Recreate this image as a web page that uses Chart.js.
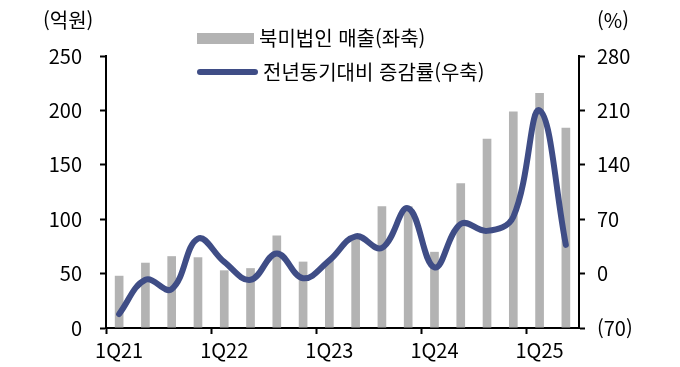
<!DOCTYPE html>
<html lang="ko">

<head>
  <meta charset="UTF-8">
  <title>북미법인 매출</title>
  <script src="https://cdn.jsdelivr.net/npm/chart.js"></script>
  <style>
    body { margin: 0; background: #fff; }
    .wrap { position: relative; width: 680px; height: 367px; font-family: "Noto Sans CJK KR", sans-serif; color: #000; }
    .unit { position: absolute; top: 6px; font-size: 20px; line-height: 28px; }
    .legend { position: absolute; left: 197px; font-size: 20px; line-height: 28px; display: flex; align-items: center; }
    .legend i { display: inline-block; margin-right: 5px; }
  </style>
</head>

<body>
  <div class="wrap">
    <canvas id="salesChart"></canvas>
    <div class="unit" style="left:43px">(억원)</div>
    <div class="unit" style="left:597px">(%)</div>
    <div class="legend" style="top:24px"><i id="swBar" style="width:57px;height:11px"></i><span id="lgBar"></span></div>
    <div class="legend" style="top:58px"><i id="swLine" style="width:61px;height:6px;border-radius:3px"></i><span id="lgLine"></span></div>
  </div>
  <script>
    const quarters = ['1Q21', '2Q21', '3Q21', '4Q21', '1Q22', '2Q22', '3Q22', '4Q22', '1Q23', '2Q23', '3Q23', '4Q23',
      '1Q24', '2Q24', '3Q24', '4Q24', '1Q25', '2Q25'];
    const sales = [48, 60, 66, 65, 53, 55, 85, 61, 62, 84, 112, 112, 70, 133, 174, 199, 216, 184];
    const yoy = [-52, -8, -20, 45, 15, -8, 26, -6, 17, 48, 33, 84, 8, 64, 55, 73, 210, 37];
    const leftTicks = [0, 50, 100, 150, 200, 250];
    const rightTicks = [-70, 0, 70, 140, 210, 280];

    const barName = '북미법인 매출(좌축)';
    const lineName = '전년동기대비 증감률(우축)';
    const barColor = '#b3b3b3';
    const lineColor = '#3f4d86';

    document.getElementById('lgBar').textContent = barName;
    document.getElementById('lgLine').textContent = lineName;
    document.getElementById('swBar').style.background = barColor;
    document.getElementById('swLine').style.background = lineColor;

    const tickFont = { family: '"Noto Sans CJK KR", sans-serif', size: 20 };

    const ctx = document.getElementById('salesChart').getContext('2d');
    const chart = new Chart(ctx, {
      data: {
        labels: quarters,
        datasets: [{
          type: 'line',
          label: lineName,
          data: yoy,
          yAxisID: 'yR',
          borderColor: lineColor,
          borderWidth: 6,
          borderCapStyle: 'round',
          tension: 0.4,
          pointRadius: 0,
          order: 1
        }, {
          type: 'bar',
          label: barName,
          data: sales,
          yAxisID: 'y',
          backgroundColor: barColor,
          barPercentage: 0.33,
          categoryPercentage: 1,
          order: 2
        }]
      },
      options: {
        responsive: true,
        maintainAspectRatio: false,
        animation: false,
        layout: { padding: { top: 56, left: 0, right: 0, bottom: 0 } },
        plugins: { legend: { display: false }, tooltip: { enabled: false } },
        scales: {
          x: {
            offset: true,
            afterFit: s => { s.height = 39; },
            border: { color: '#000', width: 2 },
            grid: {
              offset: true,
              drawOnChartArea: false,
              tickLength: 6,
              tickWidth: 2,
              tickColor: c => (c.index % 4 === 0 ? '#000' : 'rgba(0,0,0,0)')
            },
            ticks: {
              autoSkip: false,
              maxRotation: 0,
              color: '#000',
              font: tickFont,
              padding: 4,
              callback: (v, i) => (i % 4 === 0 ? quarters[i] : '')
            }
          },
          y: {
            position: 'left',
            min: leftTicks[0],
            max: leftTicks[leftTicks.length - 1],
            afterFit: s => { s.width = 106; },
            afterBuildTicks: s => { s.ticks = leftTicks.map(v => ({ value: v })); },
            border: { color: '#000', width: 2 },
            grid: { drawOnChartArea: false, tickLength: 6, tickWidth: 2, tickColor: '#000' },
            ticks: { color: '#000', font: tickFont, padding: 18 }
          },
          yR: {
            position: 'right',
            min: rightTicks[0],
            max: rightTicks[rightTicks.length - 1],
            afterFit: s => { s.width = 101; },
            afterBuildTicks: s => { s.ticks = rightTicks.map(v => ({ value: v })); },
            border: { color: '#000', width: 2 },
            grid: { drawOnChartArea: false, tickLength: 6, tickWidth: 2, tickColor: '#000' },
            ticks: {
              color: '#000',
              font: tickFont,
              padding: 12,
              callback: v => (v < 0 ? '(' + (-v) + ')' : v)
            }
          }
        }
      }
    });
  </script>
</body>

</html>
